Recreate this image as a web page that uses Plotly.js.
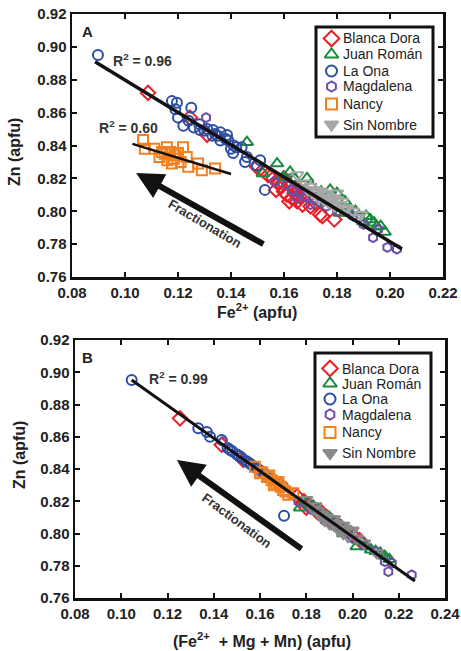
<!DOCTYPE html>
<html><head><meta charset="utf-8">
<script src="https://cdn.plot.ly/plotly-3.0.1.min.js"></script>
<style>body{margin:0;background:#fff}#c{width:461px;height:651px}</style>
</head><body><div id="c"></div>
<script>
// ---------- Panel A data: Zn vs Fe2+ ----------
const seriesNames = ["Blanca Dora", "Juan Román", "La Ona", "Magdalena", "Nancy", "Sin Nombre"];

const aBlancaX = [0.1087,0.1245,0.1310,0.1498,0.1520,0.1540,0.1560,0.1570,0.1580,0.1590,0.1600,0.1610,0.1620,0.1630,0.1640,0.1650,0.1660,0.1670,0.1680,0.1700,0.1720,0.1736,0.1790,0.1600,0.1640,0.1580,0.1620,0.1660,0.1745];
const aBlancaY = [0.872,0.857,0.8465,0.827,0.825,0.822,0.820,0.813,0.818,0.815,0.812,0.810,0.816,0.808,0.811,0.806,0.809,0.804,0.812,0.803,0.805,0.798,0.795,0.820,0.814,0.817,0.806,0.813,0.797];
const aJuanX = [0.1460,0.1520,0.1574,0.1597,0.1623,0.1640,0.1687,0.1700,0.1740,0.1774,0.1800,0.1810,0.1830,0.1849,0.1870,0.1898,0.1910,0.1925,0.1940,0.1950,0.1965,0.1980,0.1760,0.1820];
const aJuanY = [0.842,0.823,0.829,0.8208,0.824,0.820,0.820,0.816,0.812,0.813,0.811,0.799,0.806,0.799,0.800,0.7938,0.797,0.795,0.793,0.7905,0.791,0.7874,0.806,0.803];
const aOnaX = [0.0898,0.1177,0.1196,0.1250,0.1190,0.1200,0.1220,0.1260,0.1283,0.1300,0.1332,0.1340,0.1350,0.1360,0.1385,0.1380,0.1390,0.1408,0.1410,0.1420,0.1440,0.1453,0.1460,0.1498,0.1510,0.1528,0.1280,0.1330,0.1360,0.1400,0.1240,0.1310];
const aOnaY = [0.895,0.867,0.866,0.863,0.862,0.857,0.852,0.851,0.8494,0.849,0.8494,0.847,0.846,0.848,0.8464,0.844,0.843,0.8355,0.840,0.839,0.839,0.830,0.833,0.828,0.831,0.813,0.853,0.846,0.843,0.838,0.855,0.850];
const aMagX = [0.1306,0.1566,0.1610,0.1630,0.1660,0.1680,0.1710,0.1740,0.1760,0.1800,0.1860,0.1900,0.1936,0.1955,0.1990,0.2026,0.1650,0.1700];
const aMagY = [0.857,0.818,0.816,0.813,0.811,0.809,0.807,0.805,0.803,0.800,0.797,0.792,0.784,0.789,0.778,0.777,0.808,0.804];
const aNancyX = [0.1068,0.1075,0.1110,0.1130,0.1158,0.1160,0.1177,0.1190,0.1200,0.1219,0.1233,0.1239,0.1276,0.1290,0.1340,0.1150,0.1170,0.1210,0.1140,0.1185];
const aNancyY = [0.8434,0.838,0.838,0.833,0.839,0.831,0.829,0.834,0.8354,0.839,0.833,0.827,0.829,0.825,0.826,0.835,0.836,0.830,0.836,0.832];
const aSinX = [0.1650,0.1680,0.1700,0.1720,0.1740,0.1760,0.1780,0.1800,0.1820,0.1838,0.1860,0.1875,0.1890,0.1710,0.1730,0.1750,0.1770,0.1790,0.1810,0.1830,0.1690,0.1750,0.1780,0.1800];
const aSinY = [0.822,0.817,0.815,0.813,0.812,0.810,0.808,0.811,0.806,0.802,0.800,0.796,0.798,0.811,0.808,0.807,0.805,0.803,0.804,0.801,0.813,0.811,0.806,0.807];
const aFitAllX = [0.0887,0.2045];
const aFitAllY = [0.891,0.777];
const aFitNancyX = [0.1028,0.1400];
const aFitNancyY = [0.841,0.8227];
const aArrowFrom = [0.1528,0.7795];
const aArrowTo = [0.1042,0.8233];

// ---------- Panel B data: Zn vs (Fe2+ + Mg + Mn) ----------
const bBlancaX = [0.1254,0.1434,0.1528,0.1760,0.1790,0.1810,0.1830,0.1850,0.1870,0.1890,0.1910,0.1930,0.1950,0.1970,0.2000,0.2030,0.1800,0.1860,0.1900];
const bBlancaY = [0.8714,0.855,0.8456,0.823,0.820,0.818,0.816,0.813,0.812,0.810,0.807,0.806,0.804,0.802,0.799,0.796,0.816,0.814,0.809];
const bJuanX = [0.1773,0.1800,0.1830,0.1850,0.1880,0.1900,0.1950,0.1980,0.2018,0.2040,0.2060,0.2080,0.2100,0.2120,0.2140,0.2160,0.1960];
const bJuanY = [0.816,0.819,0.817,0.815,0.811,0.810,0.804,0.801,0.792,0.795,0.792,0.790,0.789,0.788,0.786,0.784,0.800];
const bOnaX = [0.1045,0.1333,0.1370,0.1384,0.1434,0.1460,0.1480,0.1500,0.1520,0.1540,0.1560,0.1580,0.1600,0.1620,0.1640,0.1660,0.1680,0.1700,0.1704,0.1470,0.1510,0.1550,0.1590,0.1630];
const bOnaY = [0.8952,0.8652,0.863,0.860,0.858,0.853,0.851,0.849,0.847,0.845,0.843,0.841,0.839,0.837,0.835,0.833,0.831,0.829,0.811,0.852,0.848,0.844,0.840,0.836];
const bMagX = [0.1440,0.1766,0.1820,0.1860,0.1900,0.1940,0.1980,0.2000,0.2050,0.2100,0.2140,0.2155,0.2170,0.2256,0.1880,0.1960];
const bMagY = [0.857,0.8198,0.815,0.812,0.807,0.803,0.800,0.797,0.793,0.789,0.7825,0.7763,0.7817,0.7743,0.808,0.802];
const bNancyX = [0.1578,0.1600,0.1630,0.1650,0.1670,0.1690,0.1700,0.1722,0.1744,0.1610,0.1660,0.1680,0.1710,0.1640];
const bNancyY = [0.8414,0.8373,0.835,0.833,0.831,0.829,0.827,0.824,0.825,0.838,0.830,0.832,0.826,0.836];
const bSinX = [0.1800,0.1830,0.1850,0.1870,0.1890,0.1910,0.1930,0.1950,0.1970,0.1990,0.2018,0.2050,0.2105,0.1860,0.1880,0.1900,0.1920,0.1940,0.1960,0.1980,0.1840,0.1920,0.1960,0.2000];
const bSinY = [0.821,0.815,0.814,0.812,0.810,0.809,0.806,0.805,0.803,0.801,0.797,0.794,0.788,0.811,0.808,0.806,0.805,0.802,0.800,0.798,0.817,0.809,0.805,0.802];
const bFitX = [0.1045,0.2270];
const bFitY = [0.8952,0.7705];
const bArrowFrom = [0.1786,0.7898];
const bArrowTo = [0.1241,0.8456];

const xTicksA = [0.08,0.10,0.12,0.14,0.16,0.18,0.20,0.22];
const xTicksB = [0.08,0.10,0.12,0.14,0.16,0.18,0.20,0.22,0.24];
const yTicks = [0.76,0.78,0.80,0.82,0.84,0.86,0.88,0.90,0.92];

const styles = [
  {symbol:'diamond-open', color:'#e8202a', size:11},
  {symbol:'triangle-up-open', color:'#1b8a3e', size:11},
  {symbol:'circle-open', color:'#2e4da3', size:10},
  {symbol:'hexagon-open', color:'#6e4ea5', size:9},
  {symbol:'square-open', color:'#f2801f', size:10},
  {symbol:'triangle-down-open', color:'#a8a8a8', size:11}
];
const FONT = 'Arial, "Liberation Sans", sans-serif';
const W = 461, H = 651;

function mk(x, y, i, xa, ya, colorOverride) {
  const s = styles[i];
  const c = colorOverride || s.color;
  return {x:x, y:y, type:'scatter', mode:'markers', name:seriesNames[i], showlegend:false,
    xaxis:xa, yaxis:ya, cliponaxis:true,
    marker:{symbol:s.symbol, size:s.size, color:c, line:{width:2, color:c}}};
}
function fit(x, y, xa, ya, w) {
  return {x:x, y:y, type:'scatter', mode:'lines', showlegend:false, xaxis:xa, yaxis:ya,
    line:{color:'#111', width:w}, hoverinfo:'skip'};
}

// custom legends (pixel-unit helper axes placed over the legend boxes)
const legA = {box:[316,27,433,137], rows:[38.5,54.5,71,86.5,104,124.5], mx:331.5, tx:341};
const legB = {box:[315,353,431,467], rows:[368.5,383.5,399,414.5,432.5,453], mx:330, tx:340};
function legendTraces(L, xa, ya, sinColor) {
  return seriesNames.map((n,i) => {
    const s = styles[i];
    const c = (i===5 && sinColor) ? sinColor : s.color;
    const sym = i===5 ? 'triangle-down' : s.symbol;
    return {x:[L.mx], y:[L.rows[i]], type:'scatter', mode:'markers', showlegend:false, xaxis:xa, yaxis:ya,
      marker:{symbol:sym, size:i===5?12:(s.size+1), color:c, line:{width:2, color:c}}, hoverinfo:'skip'};
  });
}
function legendAnnots(L) {
  return seriesNames.map((n,i) => ({xref:'paper', yref:'paper', x:L.tx/W, y:(H-L.rows[i])/H,
    xanchor:'left', yanchor:'middle', text:n, showarrow:false, font:{family:FONT, size:14, color:'#222'}}));
}
function legendAxes(L) {
  return [
    {domain:[L.box[0]/W, L.box[2]/W], range:[L.box[0], L.box[2]], visible:false, fixedrange:true},
    {domain:[(H-L.box[3])/H, (H-L.box[1])/H], range:[L.box[3], L.box[1]], visible:false, fixedrange:true}
  ];
}

const data = [
  mk(aBlancaX,aBlancaY,0,'x','y'),
  mk(aJuanX,aJuanY,1,'x','y'),
  mk(aOnaX,aOnaY,2,'x','y'),
  mk(aMagX,aMagY,3,'x','y'),
  mk(aNancyX,aNancyY,4,'x','y'),
  mk(aSinX,aSinY,5,'x','y'),
  fit(aFitAllX,aFitAllY,'x','y',3.5),
  fit(aFitNancyX,aFitNancyY,'x','y',2.5),
  mk(bBlancaX,bBlancaY,0,'x2','y2'),
  mk(bJuanX,bJuanY,1,'x2','y2'),
  mk(bOnaX,bOnaY,2,'x2','y2'),
  mk(bMagX,bMagY,3,'x2','y2'),
  mk(bNancyX,bNancyY,4,'x2','y2'),
  mk(bSinX,bSinY,5,'x2','y2','#8a8a8a'),
  fit(bFitX,bFitY,'x2','y2',3)
].concat(legendTraces(legA,'x3','y3',null), legendTraces(legB,'x4','y4','#8a8a8a'));

const axBase = {showline:true, linewidth:2.5, linecolor:'#111', mirror:'ticks', ticks:'inside',
  ticklen:5, tickwidth:2, tickcolor:'#111', showgrid:false, zeroline:false, automargin:false,
  tickfont:{family:FONT, size:15, color:'#222', weight:'bold'}, tickformat:'.2f', fixedrange:true};

const la = legendAxes(legA), lb = legendAxes(legB);
function txt(x, y, t, size, extra) {
  return Object.assign({xref:'paper', yref:'paper', x:x/W, y:(H-y)/H, text:t, showarrow:false,
    xanchor:'center', yanchor:'middle', font:{family:FONT, size:size, color:'#222'}}, extra||{});
}
function box(L) {
  return {type:'rect', xref:'paper', yref:'paper', x0:L.box[0]/W, x1:L.box[2]/W, y0:(H-L.box[3])/H, y1:(H-L.box[1])/H,
    line:{color:'#111', width:3}, fillcolor:'rgba(255,255,255,0)', layer:'above'};
}

const layout = {
  width:W, height:H, margin:{l:0,r:0,t:0,b:0}, paper_bgcolor:'#fff', plot_bgcolor:'rgba(0,0,0,0)',
  showlegend:false,
  xaxis:Object.assign({}, axBase, {domain:[72/W,443/W], range:[0.08,0.22], tickvals:xTicksA, anchor:'y'}),
  yaxis:Object.assign({}, axBase, {domain:[(H-277)/H,(H-14)/H], range:[0.76,0.92], tickvals:yTicks, anchor:'x'}),
  xaxis2:Object.assign({}, axBase, {domain:[75/W,445/W], range:[0.08,0.24], tickvals:xTicksB, anchor:'y2'}),
  yaxis2:Object.assign({}, axBase, {domain:[(H-598)/H,(H-340)/H], range:[0.76,0.92], tickvals:yTicks, anchor:'x2'}),
  xaxis3:Object.assign({anchor:'y3'}, la[0]), yaxis3:Object.assign({anchor:'x3'}, la[1]),
  xaxis4:Object.assign({anchor:'y4'}, lb[0]), yaxis4:Object.assign({anchor:'x4'}, lb[1]),
  shapes:[box(legA), box(legB)],
  annotations:[
    txt(87,32,'<b>A</b>',15),
    txt(87,357,'<b>B</b>',15),
    txt(111,60,'<b>R<sup>2</sup> = 0.96</b>',14,{xanchor:'left', font:{family:FONT,size:14,color:'#333'}}),
    txt(97,127,'<b>R<sup>2</sup> = 0.60</b>',14,{xanchor:'left', font:{family:FONT,size:14,color:'#333'}}),
    txt(147,378,'<b>R<sup>2</sup> = 0.99</b>',14,{xanchor:'left', font:{family:FONT,size:14,color:'#333'}}),
    txt(15,152,'<b>Zn (apfu)</b>',16,{textangle:-90}),
    txt(19,455,'<b>Zn (apfu)</b>',16,{textangle:-90}),
    txt(257,311,'<b>Fe<sup>2+</sup> (apfu)</b>',16),
    txt(262,640,'<b>(Fe<sup>2+</sup>  + Mg + Mn) (apfu)</b>',16),
    {xref:'x', yref:'y', axref:'x', ayref:'y', x:aArrowTo[0], y:aArrowTo[1], ax:aArrowFrom[0], ay:aArrowFrom[1], text:'', showarrow:true,
      arrowhead:2, arrowsize:0.9, arrowwidth:6, arrowcolor:'#111', standoff:0},
    {xref:'x2', yref:'y2', axref:'x2', ayref:'y2', x:bArrowTo[0], y:bArrowTo[1], ax:bArrowFrom[0], ay:bArrowFrom[1], text:'', showarrow:true,
      arrowhead:2, arrowsize:0.9, arrowwidth:6, arrowcolor:'#111', standoff:0},
    txt(205,223,'<b>Fractionation</b>',13,{textangle:30.6, font:{family:FONT,size:13,color:'#333'}}),
    txt(237,520,'<b>Fractionation</b>',13,{textangle:36.5, font:{family:FONT,size:13,color:'#333'}})
  ].concat(legendAnnots(legA), legendAnnots(legB))
};
Plotly.newPlot('c', data, layout, {staticPlot:true, displayModeBar:false});
</script></body></html>
